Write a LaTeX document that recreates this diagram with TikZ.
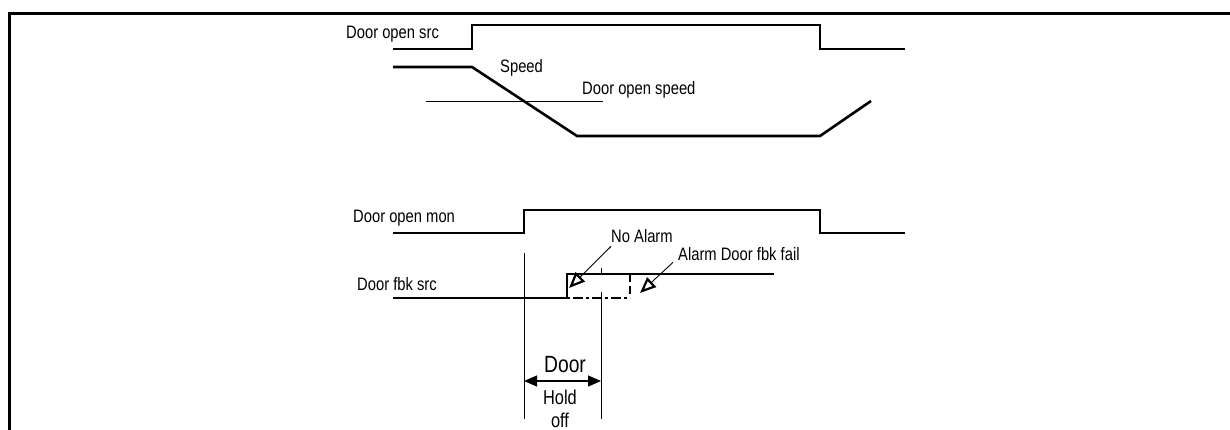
\documentclass[tikz,border=0pt]{standalone}
\usepackage{fontspec}
\setmainfont{Liberation Sans}[FakeStretch=0.82]
\usetikzlibrary{arrows.meta}

\begin{document}
\begin{tikzpicture}[x=1pt,y=-1pt,
    sig/.style={line width=2.6pt},
    guide/.style={line width=0.9pt},
    lbl/.style={anchor=base west, inner sep=0pt, font=\fontsize{18}{20}\selectfont},
    callout/.style={line width=0.9pt, -{Triangle[open, length=16pt, width=13pt, line width=2.2pt]}},
    span/.style={line width=1.2pt, {Triangle[length=13pt, width=11pt]}-{Triangle[length=13pt, width=11pt]}}]
    \useasboundingbox (0,0) rectangle (1230,430);
    \draw[line width=3pt] (9.5,432) -- (9.5,13.5) -- (1232,13.5);

    % door open source and speed
    \node[lbl] (src) at (346,39) {Door open src};
    \draw[sig] (393,49) -- (472,49) -- (472,25) -- (820,25) -- (820,49) -- (905,49);
    \node[lbl] (speed) at (500,73) {Speed};
    \draw[sig] (393,67) -- (472,67) -- (577,136) -- (820,136) -- (871,101);
    \draw[guide] (426,101) -- (603,101);
    \node[lbl] (dospeed) at (582,95) {Door open speed};

    % door open monitor
    \node[lbl] (mon) at (353,223) {Door open mon};
    \draw[sig] (393,233) -- (524,233) -- (524,210) -- (820,210) -- (820,233) -- (905,233);

    % door feedback
    \node[lbl] (fbk) at (357,290) {Door fbk src};
    \draw[sig] (393,298) -- (567,298) -- (567,274) -- (774,274);
    \draw[sig, dash pattern=on 3pt off 3pt on 10pt off 3pt] (567,298) -- (630,298);
    \draw[sig, dash pattern=on 8pt off 4pt] (630,274) -- (630,298);

    % hold off window
    \coordinate (hl) at (524,381);
    \coordinate (hr) at (601,381);
    \draw[guide] (524,253) -- (524,419);
    \draw[guide] (601,268) -- (601,274);
    \draw[guide] (601,292) -- (601,419);
    \draw[span] (hl) -- (hr);
    \node[anchor=base, inner sep=0pt, font=\fontsize{23.5}{26}\selectfont] (door) at (565,372) {Door};
    \node[anchor=north, inner sep=0pt, align=center, font=\fontsize{20}{23}\selectfont] (hold) at (560,390) {Hold\\off};

    % alarm callouts
    \node[lbl] (noalarm) at (611,243) {No Alarm};
    \node[lbl] (fail) at (678,260) {Alarm Door fbk fail};
    \coordinate (naTip) at (569,288);
    \coordinate (failTip) at (640,293);
    \draw[callout] ([yshift=-3pt]noalarm.south west) -- (naTip);
    \draw[callout] ([xshift=-5pt,yshift=-2pt]fail.south west) -- (failTip);
\end{tikzpicture}
\end{document}
